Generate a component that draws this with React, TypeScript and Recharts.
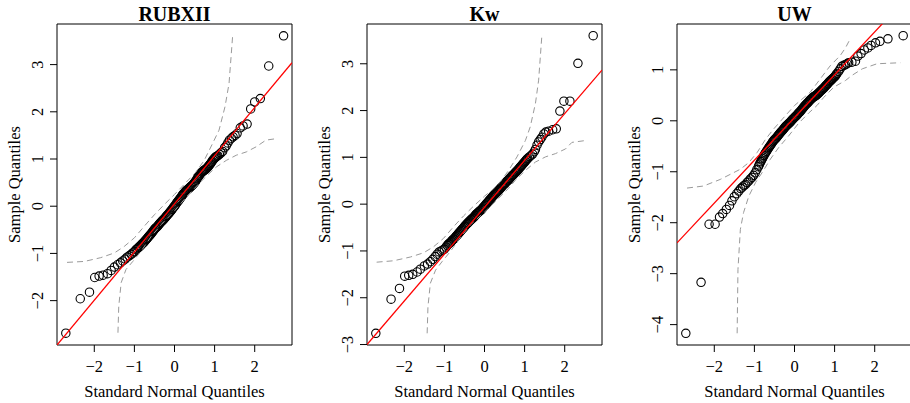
import React from 'react';
import { ComposedChart, Scatter, Line, XAxis, YAxis, ReferenceArea } from 'recharts';

const panelTitles = ['RUBXII', 'Kw', 'UW'];
const xLabel = 'Standard Normal Quantiles';
const yLabel = 'Sample Quantiles';
const xTicks = [-2, -1, 0, 1, 2];

// theoretical quantiles of the dense central part (shared by all three panels)
const midX = [-0.9, -0.88, -0.86, -0.84, -0.82, -0.8, -0.78, -0.76, -0.74, -0.72, -0.7, -0.68, -0.66, -0.64, -0.62, -0.6, -0.58, -0.56, -0.54, -0.52,
  -0.5, -0.48, -0.46, -0.44, -0.42, -0.4, -0.38, -0.36, -0.34, -0.32, -0.3, -0.28, -0.26, -0.24, -0.22, -0.2, -0.18, -0.16, -0.14, -0.12,
  -0.1, -0.08, -0.06, -0.04, -0.02, 0.0, 0.02, 0.04, 0.06, 0.08, 0.1, 0.12, 0.14, 0.16, 0.18, 0.2, 0.22, 0.24, 0.26, 0.28,
  0.3, 0.32, 0.34, 0.36, 0.38, 0.4, 0.42, 0.44, 0.46, 0.48, 0.5, 0.52, 0.54, 0.56, 0.58, 0.6, 0.62, 0.64, 0.66, 0.68,
  0.7, 0.72, 0.74, 0.76, 0.78, 0.8, 0.82, 0.84, 0.86, 0.88, 0.9, 0.92, 0.94, 0.96, 0.98, 1.0, 1.02, 1.04, 1.06];

// ---- RUBXII ----
const rubLowX = [-2.71, -2.35, -2.12, -1.99, -1.88, -1.78, -1.67, -1.58, -1.5, -1.42, -1.35, -1.29, -1.23, -1.18, -1.13, -1.08, -1.04, -1.0, -0.96, -0.93];
const rubLowY = [-2.69, -1.96, -1.82, -1.51, -1.48, -1.46, -1.43, -1.36, -1.29, -1.24, -1.2, -1.16, -1.12, -1.08, -1.05, -1.02, -0.99, -0.96, -0.92, -0.9];
const rubMidY = [-0.875, -0.86, -0.845, -0.83, -0.81, -0.79, -0.775, -0.76, -0.74, -0.72, -0.7, -0.68, -0.66, -0.64, -0.62, -0.6, -0.58, -0.56, -0.535, -0.51,
  -0.49, -0.47, -0.455, -0.44, -0.42, -0.4, -0.38, -0.36, -0.34, -0.32, -0.305, -0.29, -0.27, -0.25, -0.23, -0.21, -0.19, -0.17, -0.15, -0.13,
  -0.11, -0.09, -0.065, -0.04, -0.02, 0.0, 0.025, 0.05, 0.075, 0.1, 0.12, 0.14, 0.165, 0.19, 0.215, 0.24, 0.26, 0.28, 0.3, 0.32,
  0.335, 0.35, 0.365, 0.38, 0.395, 0.41, 0.425, 0.44, 0.46, 0.48, 0.5, 0.52, 0.55, 0.58, 0.605, 0.63, 0.655, 0.68, 0.7, 0.72,
  0.735, 0.75, 0.76, 0.77, 0.785, 0.8, 0.82, 0.84, 0.86, 0.88, 0.905, 0.93, 0.955, 0.98, 1.0, 1.02, 1.035, 1.05, 1.06];
const rubHighX = [1.08, 1.12, 1.16, 1.2, 1.25, 1.29, 1.33, 1.37, 1.42, 1.46, 1.51, 1.56, 1.64, 1.71, 1.81, 1.9, 2.0, 2.14, 2.35, 2.72];
const rubHighY = [1.07, 1.1, 1.13, 1.16, 1.24, 1.28, 1.34, 1.4, 1.44, 1.47, 1.5, 1.54, 1.66, 1.7, 1.74, 2.06, 2.21, 2.28, 2.97, 3.61];
const rubUpX = [-2.68, -2.25, -1.84, -1.5, -1.25, -1.0, -0.75, -0.5, -0.25, 0.0, 0.25, 0.53, 0.74, 0.95, 1.11, 1.26, 1.36, 1.45];
const rubUpY = [-1.19, -1.17, -1.09, -0.99, -0.85, -0.67, -0.42, -0.18, 0.04, 0.25, 0.47, 0.72, 0.97, 1.33, 1.61, 2.11, 2.6, 3.61];
const rubLoX = [-1.41, -1.39, -1.33, -1.21, -1.04, -0.83, -0.58, -0.33, 0.0, 0.3, 0.6, 0.8, 1.04, 1.29, 1.54, 1.79, 2.04, 2.28, 2.53];
const rubLoY = [-2.68, -2.12, -1.62, -1.34, -1.17, -0.95, -0.64, -0.39, -0.1, 0.2, 0.47, 0.64, 0.83, 0.97, 1.08, 1.15, 1.26, 1.4, 1.43];
const rubLineX = [-2.93, 2.93];
const rubLineY = [-2.94, 3.04];

// ---- Kw ----
const kwLowX = [-2.71, -2.33, -2.12, -1.99, -1.89, -1.79, -1.68, -1.6, -1.5, -1.42, -1.35, -1.29, -1.23, -1.18, -1.13, -1.08, -1.04, -1.0, -0.96, -0.93];
const kwLowY = [-2.76, -2.03, -1.8, -1.54, -1.52, -1.5, -1.45, -1.39, -1.32, -1.28, -1.23, -1.18, -1.12, -1.07, -1.02, -1.0, -0.98, -0.96, -0.92, -0.88];
const kwMidY = [-0.855, -0.84, -0.825, -0.81, -0.79, -0.77, -0.755, -0.74, -0.72, -0.7, -0.68, -0.66, -0.64, -0.62, -0.6, -0.58, -0.56, -0.54, -0.52, -0.5,
  -0.48, -0.46, -0.44, -0.42, -0.405, -0.39, -0.37, -0.35, -0.335, -0.32, -0.305, -0.29, -0.27, -0.25, -0.23, -0.21, -0.195, -0.18, -0.165, -0.15,
  -0.135, -0.12, -0.1, -0.08, -0.06, -0.04, -0.02, 0.0, 0.02, 0.04, 0.06, 0.08, 0.1, 0.12, 0.14, 0.16, 0.18, 0.2, 0.215, 0.23,
  0.25, 0.27, 0.285, 0.3, 0.32, 0.34, 0.36, 0.38, 0.4, 0.42, 0.435, 0.45, 0.47, 0.49, 0.505, 0.52, 0.54, 0.56, 0.58, 0.6,
  0.615, 0.63, 0.65, 0.67, 0.685, 0.7, 0.72, 0.74, 0.76, 0.78, 0.8, 0.82, 0.84, 0.86, 0.88, 0.9, 0.92, 0.94, 0.96];
const kwHighX = [1.08, 1.12, 1.16, 1.2, 1.24, 1.27, 1.31, 1.35, 1.39, 1.43, 1.48, 1.53, 1.6, 1.7, 1.79, 1.88, 1.98, 2.13, 2.33, 2.71];
const kwHighY = [0.98, 1.01, 1.04, 1.07, 1.12, 1.17, 1.26, 1.33, 1.38, 1.43, 1.5, 1.54, 1.56, 1.59, 1.61, 1.99, 2.2, 2.2, 3.01, 3.6];
const kwUpX = [-2.69, -2.27, -1.85, -1.52, -1.27, -1.02, -0.77, -0.52, -0.27, 0.0, 0.2, 0.39, 0.6, 0.81, 1.02, 1.14, 1.27, 1.35, 1.43];
const kwUpY = [-1.24, -1.21, -1.13, -1.04, -0.91, -0.73, -0.48, -0.25, -0.04, 0.17, 0.31, 0.47, 0.72, 1.01, 1.36, 1.65, 2.15, 2.65, 3.6];
const kwLoX = [-1.43, -1.41, -1.35, -1.22, -1.06, -0.85, -0.6, -0.35, 0.0, 0.3, 0.6, 0.77, 1.02, 1.27, 1.52, 1.77, 2.02, 2.18, 2.52];
const kwLoY = [-2.76, -2.19, -1.69, -1.41, -1.23, -1.01, -0.71, -0.44, -0.17, 0.08, 0.34, 0.51, 0.72, 0.9, 1.01, 1.08, 1.18, 1.32, 1.36];
const kwLineX = [-2.93, 2.93];
const kwLineY = [-3.0, 2.865];

// ---- UW ----
const uwLowX = [-2.71, -2.33, -2.13, -1.98, -1.87, -1.79, -1.7, -1.62, -1.56, -1.5, -1.44, -1.39, -1.34, -1.3, -1.26, -1.22, -1.18, -1.14, -1.1, -1.06, -1.02, -0.98, -0.94];
const uwLowY = [-4.17, -3.17, -2.03, -2.03, -1.89, -1.82, -1.74, -1.66, -1.57, -1.49, -1.43, -1.38, -1.33, -1.3, -1.27, -1.25, -1.21, -1.18, -1.14, -1.11, -1.07, -1.02, -0.96];
const uwMidY = [-0.9, -0.865, -0.83, -0.8, -0.77, -0.74, -0.71, -0.68, -0.65, -0.625, -0.6, -0.575, -0.55, -0.525, -0.5, -0.48, -0.46, -0.435, -0.41, -0.39,
  -0.37, -0.355, -0.34, -0.32, -0.3, -0.28, -0.26, -0.24, -0.22, -0.205, -0.19, -0.17, -0.15, -0.13, -0.11, -0.095, -0.08, -0.065, -0.05, -0.035,
  -0.02, 0.0, 0.02, 0.035, 0.05, 0.065, 0.08, 0.095, 0.11, 0.13, 0.15, 0.165, 0.18, 0.2, 0.22, 0.24, 0.26, 0.28, 0.3, 0.315,
  0.33, 0.345, 0.36, 0.38, 0.4, 0.415, 0.43, 0.445, 0.46, 0.47, 0.48, 0.49, 0.5, 0.515, 0.53, 0.545, 0.56, 0.575, 0.59, 0.605,
  0.62, 0.635, 0.65, 0.67, 0.69, 0.705, 0.72, 0.74, 0.76, 0.775, 0.79, 0.805, 0.82, 0.835, 0.85, 0.865, 0.88, 0.905, 0.93];
const uwHighX = [1.1, 1.14, 1.18, 1.23, 1.27, 1.31, 1.35, 1.43, 1.52, 1.58, 1.66, 1.74, 1.83, 1.91, 2.02, 2.13, 2.33, 2.71];
const uwHighY = [0.97, 1.02, 1.07, 1.09, 1.1, 1.12, 1.14, 1.15, 1.17, 1.27, 1.32, 1.39, 1.43, 1.48, 1.53, 1.56, 1.61, 1.67];
const uwUpX = [-2.68, -2.27, -1.85, -1.6, -1.35, -1.14, -0.93, -0.72, -0.52, -0.25, 0.0, 0.39, 0.64, 0.89, 1.14, 1.27, 1.39];
const uwUpY = [-1.32, -1.28, -1.15, -1.05, -0.95, -0.82, -0.62, -0.36, -0.16, 0.08, 0.3, 0.56, 0.82, 1.08, 1.28, 1.43, 1.61];
const uwLoX = [-1.43, -1.41, -1.35, -1.27, -1.14, -0.97, -0.81, -0.6, -0.39, -0.15, 0.1, 0.35, 0.56, 0.73, 0.98, 1.27, 1.43, 1.69, 2.06, 2.64];
const uwLoY = [-4.17, -2.92, -2.13, -1.8, -1.48, -1.21, -1.02, -0.75, -0.52, -0.3, -0.05, 0.15, 0.3, 0.46, 0.66, 0.79, 0.89, 1.02, 1.12, 1.14];
const uwLineX = [-2.93, 2.93];
const uwLineY = [-2.396, 2.526];

const xDomain = [-2.93, 2.93];
const yDomains = [[-2.94, 3.86], [-3.01, 3.85], [-4.4, 1.9]];
const yTicks = [[-2, -1, 0, 1, 2, 3], [-3, -2, -1, 0, 1, 2, 3], [-4, -3, -2, -1, 0, 1]];

const zip = (xs: number[], ys: number[]) => xs.map((x, i) => ({ x, y: ys[i] }));

const panels = [
  {
    pts: [...zip(rubLowX, rubLowY), ...zip(midX, rubMidY), ...zip(rubHighX, rubHighY)],
    up: zip(rubUpX, rubUpY), lo: zip(rubLoX, rubLoY), line: zip(rubLineX, rubLineY),
  },
  {
    pts: [...zip(kwLowX, kwLowY), ...zip(midX, kwMidY), ...zip(kwHighX, kwHighY)],
    up: zip(kwUpX, kwUpY), lo: zip(kwLoX, kwLoY), line: zip(kwLineX, kwLineY),
  },
  {
    pts: [...zip(uwLowX, uwLowY), ...zip(midX, uwMidY), ...zip(uwHighX, uwHighY)],
    up: zip(uwUpX, uwUpY), lo: zip(uwLoX, uwLoY), line: zip(uwLineX, uwLineY),
  },
];

const FONT = "'Liberation Serif', 'Times New Roman', Times, serif";
const FS = 16.5;
const fmt = (v: number) => (v < 0 ? '\u2212' + Math.abs(v) : String(v));

const CHART_W = 303;
const CHART_H = 403;
const M = { top: 24, right: 11, bottom: 18, left: 17 };
const Y_W = 40;
const X_H = 40;
const panelLefts = [0, 310, 620];

const XTick = (props: any) => {
  const { x, y, payload } = props;
  return (
    <text x={x} y={y + 11.5} textAnchor="middle" style={{ fontFamily: FONT, fontSize: FS }} fill="#000">
      {fmt(payload.value)}
    </text>
  );
};

const YTick = (props: any) => {
  const { x, y, payload } = props;
  return (
    <text x={x} y={y} transform={`rotate(-90 ${x} ${y})`} textAnchor="middle" style={{ fontFamily: FONT, fontSize: FS }} fill="#000">
      {fmt(payload.value)}
    </text>
  );
};

const Circle = (props: any) => {
  const { cx, cy } = props;
  if (cx == null || cy == null) return null;
  return <circle cx={cx} cy={cy} r={4.2} fill="none" stroke="#000" strokeWidth={1.1} />;
};

function Axes({ idx, bare }: { idx: number; bare: boolean }) {
  return null;
}

// Base layer: axes, ticks and the sample points
function PointsLayer({ idx }: { idx: number }) {
  const p = panels[idx];
  const yd = yDomains[idx];
  return (
    <div style={{ position: 'absolute', left: panelLefts[idx], top: 0 }}>
      <ComposedChart width={CHART_W} height={CHART_H} margin={M}>
        <XAxis type="number" dataKey="x" domain={xDomain} ticks={xTicks} interval={0} allowDataOverflow height={X_H}
          tickSize={7} tickMargin={8} axisLine={false} tickLine={{ stroke: '#000' }} tick={<XTick />} />
        <YAxis type="number" dataKey="y" domain={yd} ticks={yTicks[idx]} interval={0} allowDataOverflow width={Y_W}
          tickSize={7} tickMargin={7} axisLine={false} tickLine={{ stroke: '#000' }} tick={<YTick />} />
        <Scatter data={p.pts} shape={<Circle />} isAnimationActive={false} />
      </ComposedChart>
    </div>
  );
}

// Top layer: envelopes, reference line and the frame, drawn over the points
function LinesLayer({ idx }: { idx: number }) {
  const p = panels[idx];
  const yd = yDomains[idx];
  return (
    <div style={{ position: 'absolute', left: panelLefts[idx], top: 0 }}>
      <ComposedChart width={CHART_W} height={CHART_H} margin={M}>
        <XAxis type="number" dataKey="x" domain={xDomain} ticks={xTicks} interval={0} allowDataOverflow height={X_H}
          axisLine={false} tickLine={false} tick={false} />
        <YAxis type="number" dataKey="y" domain={yd} ticks={yTicks[idx]} interval={0} allowDataOverflow width={Y_W}
          axisLine={false} tickLine={false} tick={false} />
        <Line data={p.up} dataKey="y" type="linear" stroke="#9a9a9a" strokeWidth={1} strokeDasharray="6 4" dot={false} activeDot={false} isAnimationActive={false} />
        <Line data={p.lo} dataKey="y" type="linear" stroke="#9a9a9a" strokeWidth={1} strokeDasharray="6 4" dot={false} activeDot={false} isAnimationActive={false} />
        <Line data={p.line} dataKey="y" type="linear" stroke="#ff0000" strokeWidth={1.3} dot={false} activeDot={false} isAnimationActive={false} />
        <ReferenceArea x1={xDomain[0]} x2={xDomain[1]} y1={yd[0]} y2={yd[1]} fill="none" stroke="#000" strokeWidth={1} fillOpacity={0} ifOverflow="visible" />
      </ComposedChart>
    </div>
  );
}

export default function App() {
  const plotW = CHART_W - M.left - Y_W - M.right;
  const plotTop = M.top;
  const plotBottom = CHART_H - M.bottom - X_H;
  const midY = (plotTop + plotBottom) / 2;
  return (
    <div style={{ position: 'absolute', left: 0, top: 0, width: 910, height: 403, overflow: 'hidden', background: '#fff' }}>
      {[0, 1, 2].map((i) => (
        <PointsLayer key={'p' + i} idx={i} />
      ))}
      {[0, 1, 2].map((i) => (
        <LinesLayer key={'l' + i} idx={i} />
      ))}
      <svg width={910} height={403} style={{ position: 'absolute', left: 0, top: 0, pointerEvents: 'none' }}>
        {[0, 1, 2].map((i) => {
          const plotLeft = panelLefts[i] + M.left + Y_W;
          const cx = plotLeft + plotW / 2;
          const yx = plotLeft - 37.5;
          return (
            <g key={i}>
              <text x={cx} y={21} textAnchor="middle" style={{ fontFamily: FONT, fontSize: 20, fontWeight: 'bold' }} fill="#000">
                {panelTitles[i]}
              </text>
              <text x={cx} y={397} textAnchor="middle" style={{ fontFamily: FONT, fontSize: FS }} fill="#000">
                {xLabel}
              </text>
              <text x={yx} y={midY} transform={`rotate(-90 ${yx} ${midY})`} textAnchor="middle" style={{ fontFamily: FONT, fontSize: FS }} fill="#000">
                {yLabel}
              </text>
            </g>
          );
        })}
      </svg>
    </div>
  );
}
